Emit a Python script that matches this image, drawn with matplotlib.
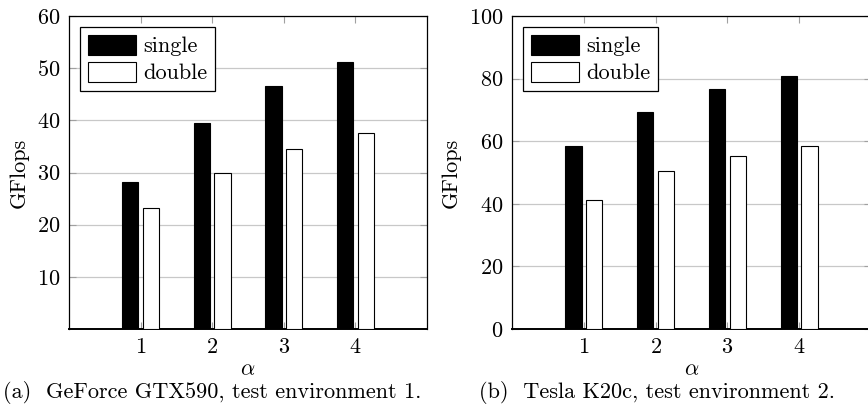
import numpy as np
import matplotlib
matplotlib.use("Agg")
from matplotlib import pyplot as plt

plt.rcParams["font.family"] = "serif"
plt.rcParams["font.serif"] = ["cmr10"]
plt.rcParams["mathtext.fontset"] = "cm"
plt.rcParams["axes.formatter.use_mathtext"] = True
plt.rcParams["font.size"] = 16

alpha = [1, 2, 3, 4]

# GeForce GTX590 (test environment 1)
gtx_single = [28.1, 39.4, 46.6, 51.1]
gtx_double = [23.1, 30.0, 34.6, 37.5]

# Tesla K20c (test environment 2)
k20_single = [58.6, 69.3, 76.8, 80.8]
k20_double = [41.2, 50.6, 55.2, 58.6]

W, H = 868, 404
fig = plt.figure(figsize=(W / 100, H / 100), dpi=100)


def panel(left_px, right_px, single, double, ymax, yticks, caption, cap_x):
    ax = fig.add_axes([left_px / W, (H - 329) / H, (right_px - left_px) / W, 313 / H])
    x = np.array(alpha)
    bw = 0.23
    ax.bar(x - 0.145, single, bw, color="black", edgecolor="black", lw=0.8, label="single", zorder=3)
    ax.bar(x + 0.145, double, bw, color="white", edgecolor="black", lw=0.8, label="double", zorder=3)
    ax.set_xlim(0, 5)
    ax.set_ylim(0, ymax)
    ax.set_xticks(alpha)
    ax.set_yticks(yticks)
    ax.yaxis.grid(True, color="#c8c8c8", lw=0.9, zorder=0)
    ax.set_axisbelow(True)
    ax.tick_params(direction="in", length=5, color="#a0a0a0", top=True, right=True, pad=6)
    for s in ax.spines.values():
        s.set_linewidth(0.9)
    ax.spines["bottom"].set_linewidth(1.4)
    ax.set_ylabel("GFlops", labelpad=6)
    ax.set_xlabel(r"$\alpha$", labelpad=2)
    leg = ax.legend(loc="upper left", bbox_to_anchor=(0.03, 0.965), fancybox=False,
                    edgecolor="black", framealpha=1, handlelength=2.2, handleheight=1.0,
                    borderpad=0.35, labelspacing=0.25, handletextpad=0.3, borderaxespad=0)
    leg.get_frame().set_linewidth(0.9)
    fig.text(cap_x / W, (H - 393) / H, caption, ha="left", va="center", fontsize=16)
    return ax


panel(69, 427, gtx_single, gtx_double, 60, [10, 20, 30, 40, 50, 60],
      "(a)  GeForce GTX590, test environment 1.", 3)
panel(512, 871, k20_single, k20_double, 100, [0, 20, 40, 60, 80, 100],
      "(b)  Tesla K20c, test environment 2.", 479)

fig.savefig("out.png", dpi=100)
